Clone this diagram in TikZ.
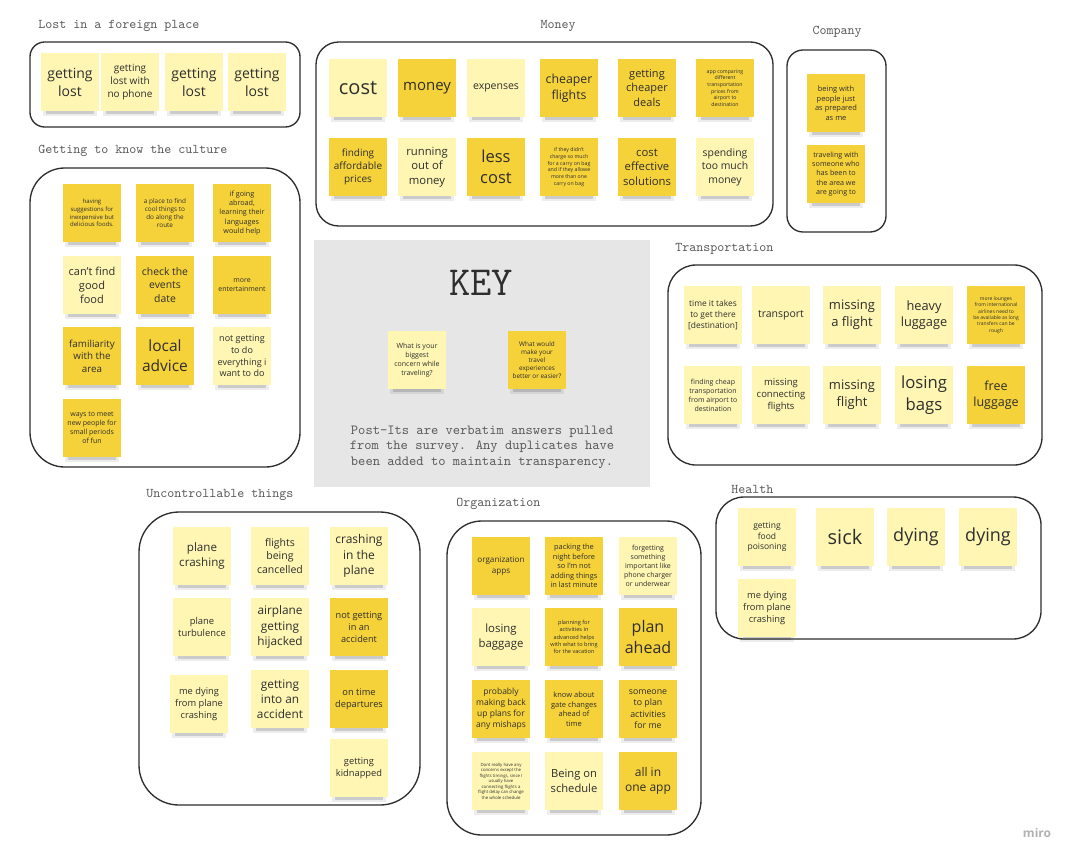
\documentclass[tikz,border=0pt]{standalone}
\usepackage{fontspec}
\setmainfont{Open Sans}
\usetikzlibrary{positioning}
\definecolor{ylite}{HTML}{FFF6B3}
\definecolor{ydark}{HTML}{F6D23A}
\definecolor{keybg}{HTML}{E6E6E6}
\definecolor{ink}{HTML}{2E2E2E}
\definecolor{headc}{HTML}{5A5A5A}
\pgfdeclarelayer{bg}
\pgfdeclarelayer{shadow}
\pgfsetlayers{bg,shadow,main}
\newcommand\fpx[1]{\pgfmathsetlengthmacro\fpxs{#1*0.75}\pgfmathsetlengthmacro\fpxb{#1*0.75*1.28}\fontsize{\fpxs}{\fpxb}\selectfont}
\newcommand\stick[6]{%
  \node[note,fill=#4,font=\fpx{#5}] (#1) at (#2,#3) {#6};
  \begin{pgfonlayer}{shadow}
    \fill[black,opacity=.07] ([xshift=1.5pt,yshift=1pt]#1.south west) rectangle ([xshift=-1.5pt,yshift=-3.5pt]#1.south east);
    \fill[black,opacity=.14] ([xshift=3.5pt,yshift=.5pt]#1.south west) rectangle ([xshift=-3.5pt,yshift=-2pt]#1.south east);
  \end{pgfonlayer}}
\tikzset{
  note/.style={rectangle, minimum width=43pt, minimum height=43.5pt, inner sep=1pt, align=center, text=ink},
  grp/.style={draw=ink, line width=1pt},
  head/.style={font=\ttfamily\fontsize{10pt}{12pt}\selectfont, text=headc, inner sep=0pt},
}
\begin{document}
\begin{tikzpicture}[x=0.75pt,y=-0.75pt]
\begin{pgfonlayer}{bg}
\fill[white] (0,0) rectangle (1080,864);
\fill[keybg] (314,240) rectangle (650,487);
\end{pgfonlayer}
\useasboundingbox (0,0) rectangle (1080,864);

% ---------- group frames ----------
\draw[grp, rounded corners=11pt] (30,42) rectangle (300,127);
\draw[grp, rounded corners=17pt] (316,42) rectangle (773,226);
\draw[grp, rounded corners=12pt] (787,50) rectangle (886,232);
\draw[grp, rounded corners=26pt] (30,168) rectangle (300,467);
\draw[grp, rounded corners=21pt] (668,265) rectangle (1042,465);
\draw[grp, rounded corners=21pt] (716,497) rectangle (1041,639);
\draw[grp, rounded corners=30pt] (139,512) rectangle (420,805);
\draw[grp, rounded corners=26pt] (447,521) rectangle (701,835);

% ---------- headings ----------
\node[head, anchor=west] (hlost) at (38,26) {Lost in a foreign place};
\node[head] (hmoney) at (558,26) {Money};
\node[head] (hcomp) at (837,32) {Company};
\node[head, anchor=west] (hcult) at (38,151) {Getting to know the culture};
\node[head, anchor=west] (htrans) at (675,249) {Transportation};
\node[head, anchor=west] (hhealth) at (731,489) {Health};
\node[head, anchor=west] (hunc) at (146,495) {Uncontrollable things};
\node[head, anchor=west] (horg) at (456,504) {Organization};

% ---------- Lost in a foreign place ----------
\stick{l1}{70}{82}{ylite}{14}{getting\\lost}
\stick{l2}{130}{82}{ylite}{10}{getting\\lost with\\no phone}
\stick{l3}{194}{82}{ylite}{14}{getting\\lost}
\stick{l4}{257}{82}{ylite}{14}{getting\\lost}

% ---------- Money ----------
\stick{m1}{358}{88}{ylite}{20}{cost}
\stick{m2}{427}{88}{ydark}{15}{money}
\stick{m3}{496}{88}{ylite}{10.5}{expenses}
\stick{m4}{569}{88}{ydark}{12.3}{cheaper\\flights}
\stick{m5}{647}{88}{ydark}{11}{getting\\cheaper\\deals}
\stick{m6}{725}{88}{ydark}{5.2}{app comparing\\different\\transportation\\prices from\\airport to\\destination}
\stick{m7}{358}{167}{ydark}{10}{finding\\affordable\\prices}
\stick{m8}{427}{167}{ylite}{11.3}{running\\out of\\money}
\stick{m9}{496}{167}{ydark}{16.5}{less\\cost}
\stick{m10}{569}{167}{ydark}{5.2}{if they didn't\\charge so much\\for a carry on bag\\and if they allowe\\more than one\\carry on bag}
\stick{m11}{647}{167}{ydark}{11.3}{cost\\effective\\solutions}
\stick{m12}{725}{167}{ylite}{10.4}{spending\\too much\\money}

% ---------- Company ----------
\stick{c1}{836}{103}{ydark}{7.5}{being with\\people just\\as prepared\\as me}
\stick{c2}{836}{174}{ydark}{7.2}{traveling with\\someone who\\has been to\\the area we\\are going to}

% ---------- Culture ----------
\stick{k1}{92}{213}{ydark}{6}{having\\suggestions for\\inexpensive but\\delicious foods.}
\stick{k2}{165}{213}{ydark}{6.4}{a place to find\\cool things to\\do along the\\route}
\stick{k3}{242}{213}{ydark}{7.2}{if going\\abroad,\\learning their\\languages\\would help}
\stick{k4}{92}{285}{ylite}{11}{can't find\\good\\food}
\stick{k5}{165}{285}{ydark}{10.4}{check the\\events\\date}
\stick{k6}{242}{285}{ydark}{7}{more\\entertainment}
\stick{k7}{92}{356}{ydark}{9.8}{familiarity\\with the\\area}
\stick{k8}{165}{356}{ydark}{15.5}{local\\advice}
\stick{k9}{242}{356}{ylite}{9}{not getting\\to do\\everything i\\want to do}
\stick{k10}{92}{428}{ydark}{7}{ways to meet\\new people for\\small periods\\of fun}

% ---------- KEY ----------
\node[font=\ttfamily\fontsize{31pt}{34pt}\selectfont, text=ink, inner sep=0pt] (key) at (481,283) {KEY};
\stick{q1}{417}{360}{ylite}{7}{What is your\\biggest\\concern while\\traveling?}
\stick{q2}{537}{360}{ydark}{6.4}{What would\\make your\\travel\\experiences\\better or easier?}
\node[font=\ttfamily\fontsize{10.4pt}{11.6pt}\selectfont, text=headc, align=center, inner sep=0pt] (keytext) at (482,447)
  {Post-Its are verbatim answers pulled\\from the survey. Any duplicates have\\been added to maintain transparency.};

% ---------- Transportation ----------
\stick{t1}{713}{315}{ylite}{8.4}{time it takes\\to get there\\{[}destination{]}}
\stick{t2}{781}{315}{ylite}{10.5}{transport}
\stick{t3}{852}{315}{ylite}{13}{missing\\a flight}
\stick{t4}{924}{315}{ylite}{12.8}{heavy\\luggage}
\stick{t5}{996}{315}{ydark}{5}{more lounges\\from international\\airlines need to\\be available as long\\transfers can be\\rough}
\stick{t6}{713}{395}{ylite}{7}{finding cheap\\transportation\\from airport to\\destination}
\stick{t7}{781}{395}{ylite}{9.5}{missing\\connecting\\flights}
\stick{t8}{852}{395}{ylite}{13}{missing\\flight}
\stick{t9}{924}{395}{ylite}{16.7}{losing\\bags}
\stick{t10}{996}{395}{ydark}{12.5}{free\\luggage}

% ---------- Health ----------
\stick{h1}{767}{537}{ylite}{8.5}{getting\\food\\poisoning}
\stick{h2}{845}{537}{ylite}{20}{sick}
\stick{h3}{916}{537}{ylite}{18}{dying}
\stick{h4}{988}{537}{ylite}{18}{dying}
\stick{h5}{767}{608}{ylite}{9.3}{me dying\\from plane\\crashing}

% ---------- Uncontrollable things ----------
\stick{u1}{202}{556}{ylite}{11.6}{plane\\crashing}
\stick{u2}{280}{556}{ylite}{10.5}{flights\\being\\cancelled}
\stick{u3}{359}{556}{ylite}{12}{crashing\\in the\\plane}
\stick{u4}{202}{627}{ylite}{9.4}{plane\\turbulence}
\stick{u5}{280}{627}{ylite}{11.8}{airplane\\getting\\hijacked}
\stick{u6}{359}{627}{ydark}{9.2}{not getting\\in an\\accident}
\stick{u7}{199}{704}{ylite}{9.3}{me dying\\from plane\\crashing}
\stick{u8}{280}{699}{ylite}{11.8}{getting\\into an\\accident}
\stick{u9}{359}{699}{ydark}{9.3}{on time\\departures}
\stick{u10}{359}{768}{ylite}{9.3}{getting\\kidnapped}

% ---------- Organization ----------
\stick{o1}{501}{566}{ydark}{8.1}{organization\\apps}
\stick{o2}{574}{566}{ydark}{7.4}{packing the\\night before\\so I'm not\\adding things\\in last minute}
\stick{o3}{648}{566}{ylite}{7}{forgetting\\something\\important like\\phone charger\\or underwear}
\stick{o4}{501}{637}{ylite}{11.4}{losing\\baggage}
\stick{o5}{574}{637}{ydark}{5.6}{planning for\\activities in\\advanced helps\\with what to bring\\for the vacation}
\stick{o6}{648}{637}{ydark}{16}{plan\\ahead}
\stick{o7}{501}{709}{ydark}{8.5}{probably\\making back\\up plans for\\any mishaps}
\stick{o8}{574}{709}{ydark}{7.5}{know about\\gate changes\\ahead of\\time}
\stick{o9}{648}{709}{ydark}{8.8}{someone\\to plan\\activities\\for me}
\stick{o10}{501}{781}{ylite}{4.3}{Dont really have any\\concerns except the\\flights timings, since I\\usually have\\connecting flights a\\flight delay can change\\the whole schedule}
\stick{o11}{574}{781}{ylite}{11.2}{Being on\\schedule}
\stick{o12}{648}{781}{ydark}{12}{all in\\one app}

% ---------- watermark ----------
\node[font=\bfseries\fpx{12}, text=black!30, inner sep=0pt] (miro) at (1037,833) {miro};
\end{tikzpicture}
\end{document}
